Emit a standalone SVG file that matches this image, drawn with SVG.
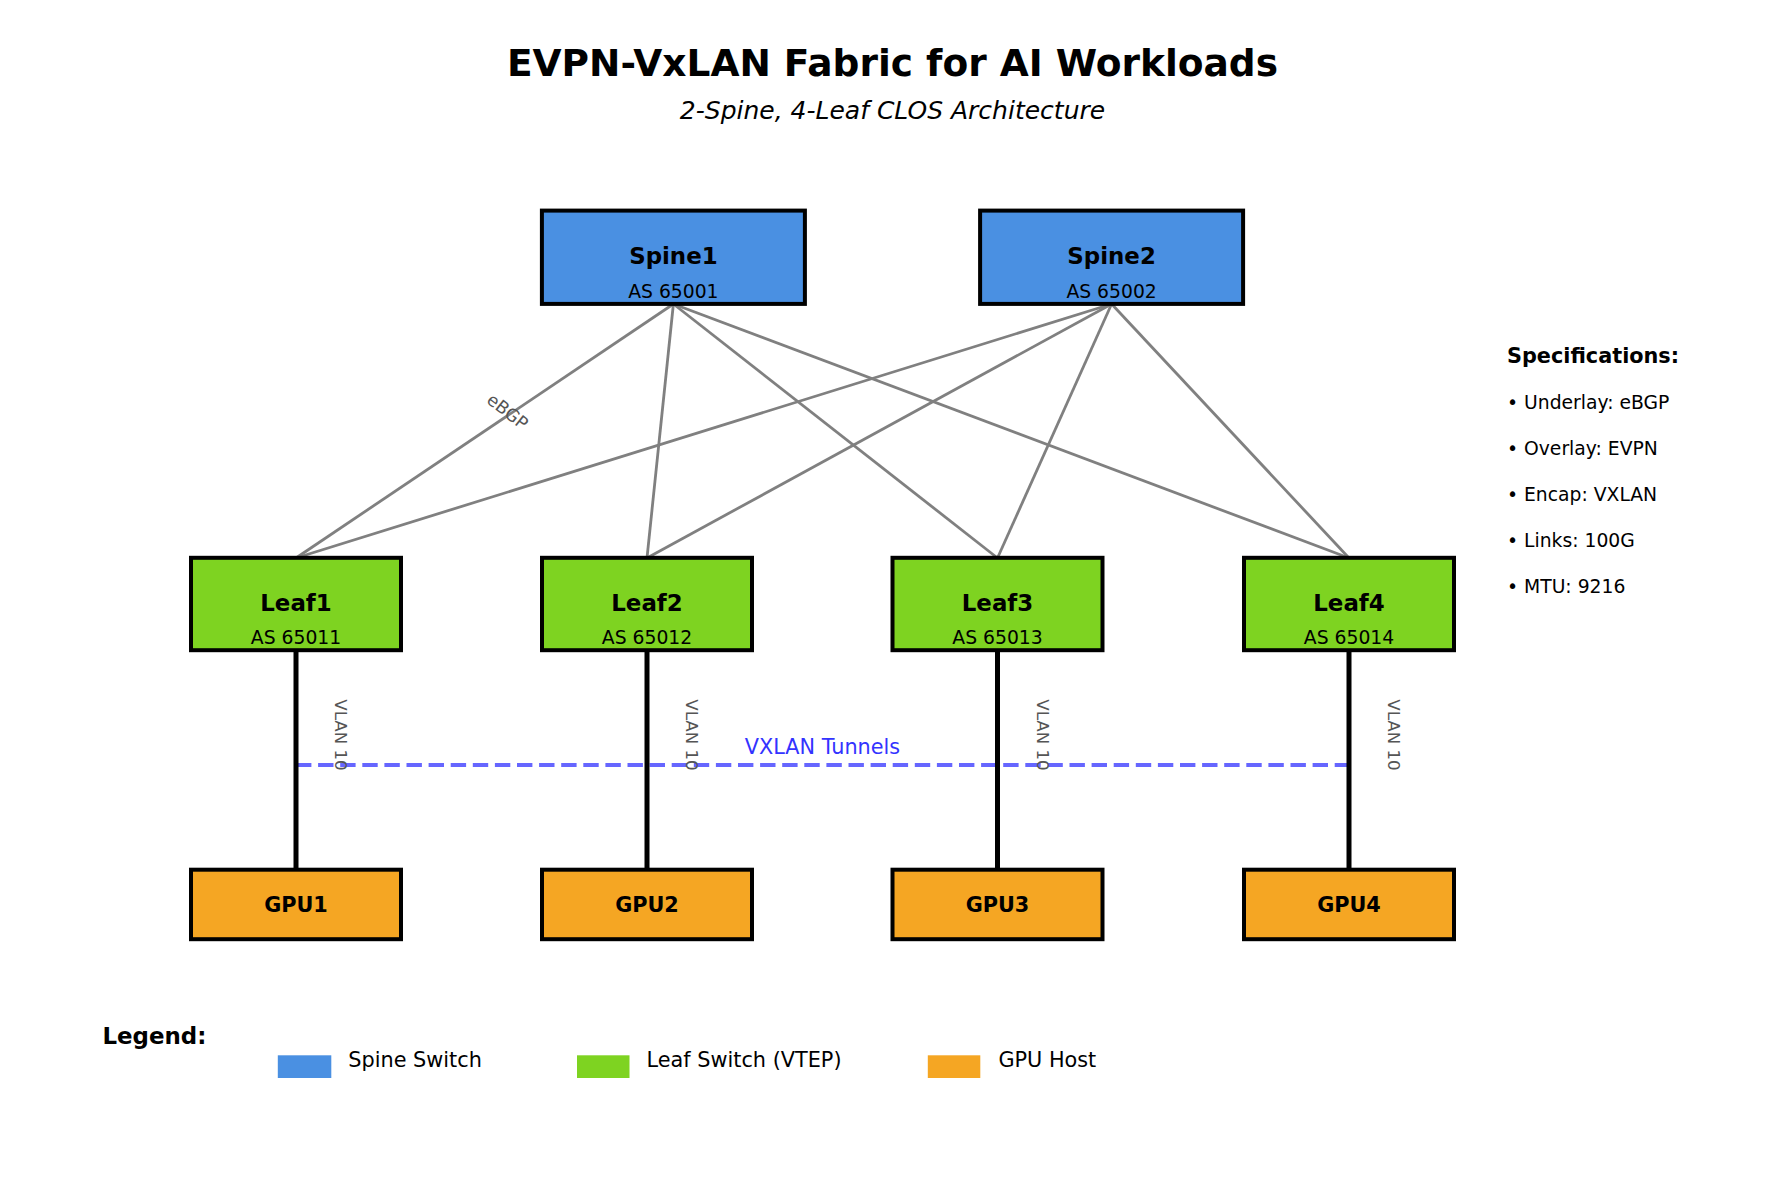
<svg xmlns="http://www.w3.org/2000/svg" width="1785" height="1185" viewBox="0 0 1785 1185">
<style>
text{font-family:"DejaVu Sans","Liberation Sans",sans-serif;fill:#000}
.box{stroke:#000;stroke-width:4}
.spine{fill:#4a90e2}
.leaf{fill:#7ed321}
.gpu{fill:#f5a623}
.name{font-weight:bold;font-size:22.9px;text-anchor:middle}
.as{font-size:18.75px;text-anchor:middle}
.gname{font-weight:bold;font-size:20.8px;text-anchor:middle}
.ul{stroke:#808080;stroke-width:2.8;fill:none}
.acc{stroke:#000;stroke-width:5;fill:none}
.vlan{font-size:16.67px;fill:#555;text-anchor:middle}
.ebgp{font-size:17.5px;fill:#555;text-anchor:middle}
.tun{font-size:20.8px;fill:#3333ff;text-anchor:middle}
.spec{font-size:18.75px}
.leg{font-size:20.8px}
</style>
<rect width="1785" height="1185" fill="#fff"/>
<text x="892.5" y="76" font-size="37.5" font-weight="bold" text-anchor="middle">EVPN-VxLAN Fabric for AI Workloads</text>
<text x="892.5" y="119" font-size="25" font-style="italic" text-anchor="middle">2-Spine, 4-Leaf CLOS Architecture</text>
<g id="connectors">
<line class="ul" x1="673.4" y1="304" x2="296" y2="558"/>
<line class="ul" x1="673.4" y1="304" x2="647" y2="558"/>
<line class="ul" x1="673.4" y1="304" x2="997.5" y2="558"/>
<line class="ul" x1="673.4" y1="304" x2="1349" y2="558"/>
<line class="ul" x1="1111.6" y1="304" x2="296" y2="558"/>
<line class="ul" x1="1111.6" y1="304" x2="647" y2="558"/>
<line class="ul" x1="1111.6" y1="304" x2="997.5" y2="558"/>
<line class="ul" x1="1111.6" y1="304" x2="1349" y2="558"/>
<text class="ebgp" x="0" y="0" dominant-baseline="central" transform="translate(507.5,411.5) rotate(38)">eBGP</text>
<line x1="296" y1="765" x2="1349" y2="765" stroke="#6666ff" stroke-width="4.17" stroke-dasharray="15.4 6.7"/>
<text class="tun" x="822.5" y="754">VXLAN Tunnels</text>
<line class="acc" x1="296" y1="650" x2="296" y2="870"/>
<line class="acc" x1="647" y1="650" x2="647" y2="870"/>
<line class="acc" x1="997.5" y1="650" x2="997.5" y2="870"/>
<line class="acc" x1="1349" y1="650" x2="1349" y2="870"/>
<text class="vlan" transform="translate(335,735) rotate(90)">VLAN 10</text>
<text class="vlan" transform="translate(686,735) rotate(90)">VLAN 10</text>
<text class="vlan" transform="translate(1036.5,735) rotate(90)">VLAN 10</text>
<text class="vlan" transform="translate(1388,735) rotate(90)">VLAN 10</text>
</g>
<g id="spine1"><rect class="box spine" x="541.9" y="210.6" width="263" height="93.3"/><text class="name" x="673.4" y="264">Spine1</text><text class="as" x="673.4" y="297.7">AS 65001</text></g>
<g id="spine2"><rect class="box spine" x="980.1" y="210.6" width="263" height="93.3"/><text class="name" x="1111.6" y="264">Spine2</text><text class="as" x="1111.6" y="297.7">AS 65002</text></g>
<g id="leaf1"><rect class="box leaf" x="191" y="557.8" width="210" height="92.4"/><text class="name" x="296" y="610.7">Leaf1</text><text class="as" x="296" y="643.7">AS 65011</text></g>
<g id="leaf2"><rect class="box leaf" x="542" y="557.8" width="210" height="92.4"/><text class="name" x="647" y="610.7">Leaf2</text><text class="as" x="647" y="643.7">AS 65012</text></g>
<g id="leaf3"><rect class="box leaf" x="892.5" y="557.8" width="210" height="92.4"/><text class="name" x="997.5" y="610.7">Leaf3</text><text class="as" x="997.5" y="643.7">AS 65013</text></g>
<g id="leaf4"><rect class="box leaf" x="1244" y="557.8" width="210" height="92.4"/><text class="name" x="1349" y="610.7">Leaf4</text><text class="as" x="1349" y="643.7">AS 65014</text></g>
<g id="gpu1"><rect class="box gpu" x="191" y="869.7" width="210" height="69.5"/><text class="gname" x="296" y="912">GPU1</text></g>
<g id="gpu2"><rect class="box gpu" x="542" y="869.7" width="210" height="69.5"/><text class="gname" x="647" y="912">GPU2</text></g>
<g id="gpu3"><rect class="box gpu" x="892.5" y="869.7" width="210" height="69.5"/><text class="gname" x="997.5" y="912">GPU3</text></g>
<g id="gpu4"><rect class="box gpu" x="1244" y="869.7" width="210" height="69.5"/><text class="gname" x="1349" y="912">GPU4</text></g>
<g id="specs">
<text x="1507" y="362.5" font-size="20.8" font-weight="bold">Specifications:</text>
<text class="spec" x="1507" y="408.5">• Underlay: eBGP</text>
<text class="spec" x="1507" y="454.5">• Overlay: EVPN</text>
<text class="spec" x="1507" y="500.5">• Encap: VXLAN</text>
<text class="spec" x="1507" y="546.5">• Links: 100G</text>
<text class="spec" x="1507" y="592.5">• MTU: 9216</text>
</g>
<g id="legend">
<text x="102.5" y="1044" font-size="22.9" font-weight="bold">Legend:</text>
<rect x="277.8" y="1055.3" width="53.5" height="22.7" fill="#4a90e2"/>
<text class="leg" x="348.3" y="1066.5">Spine Switch</text>
<rect x="577" y="1055.3" width="52.5" height="22.7" fill="#7ed321"/>
<text class="leg" x="646.6" y="1066.5">Leaf Switch (VTEP)</text>
<rect x="927.8" y="1055.3" width="52.5" height="22.7" fill="#f5a623"/>
<text class="leg" x="998.4" y="1066.5">GPU Host</text>
</g>
</svg>
